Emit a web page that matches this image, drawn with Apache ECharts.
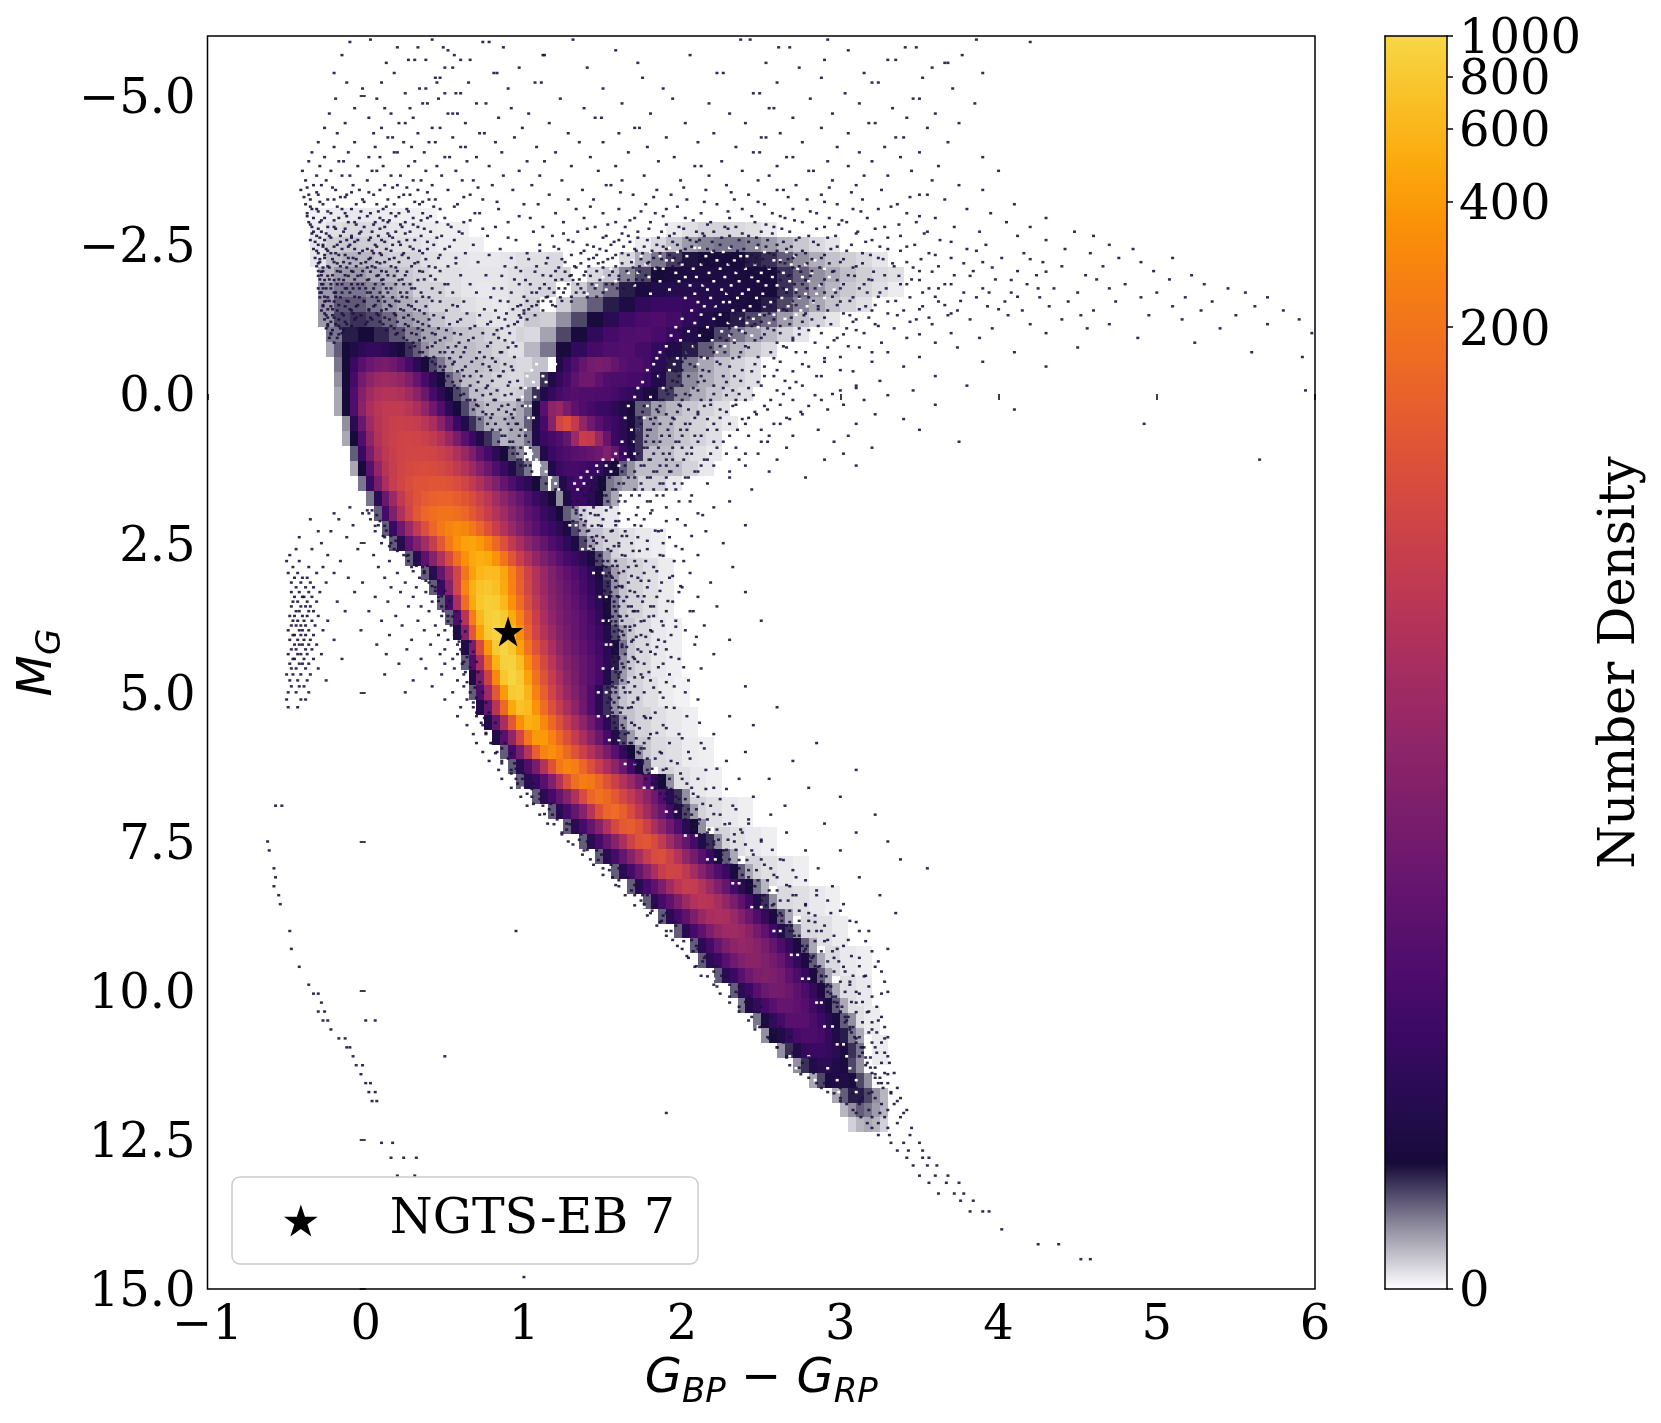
<!DOCTYPE html>
<html>
<head>
<meta charset="utf-8">
<title>NGTS-EB 7 colour-magnitude diagram</title>
<script src="https://cdn.jsdelivr.net/npm/echarts@6/dist/echarts.min.js"></script>
<style>html,body{margin:0;padding:0;background:#fff}#cmd{width:1661px;height:1423px}</style>
</head>
<body>
<div id="cmd"></div>
<script>
var xTicks = [-1, 0, 1, 2, 3, 4, 5, 6];
var yTicks = [-5, -2.5, 0, 2.5, 5, 7.5, 10, 12.5, 15];
var barTicks = [0, 200, 400, 600, 800, 1000];
var targetName = 'NGTS-EB 7';
var target = [0.9, 3.98];

// number density, rows are [M_G, first colour, values...]
// main sequence + turnoff, one value per 0.05 in colour, 0.25 in M_G
var bodyRows = [
[-0.75,-0.25,[.3,.6,1,1.5,2,2.5,2.5,2,1.5,1,.8,.6,.4]],
[-0.5,-0.2,[.5,1,3,6,9,11,12,10,7,4,2,1,.7,.5,.3]],
[-0.25,-0.2,[.4,1,4,11,18,24,26,24,20,14,8,4,2,1,.6,.4]],
[0,-0.2,[.3,1,5,15,26,34,38,38,34,26,17,9,4,2,1,.7,.5]],
[0.25,-0.2,[.3,1,5,17,32,42,48,50,48,42,32,20,10,5,2,1,.7,.4]],
[0.5,-0.15,[.4,2,9,25,40,50,58,60,58,52,42,30,17,8,3,1.5,.8,.5]],
[0.75,-0.15,[.3,1,5,18,36,50,60,65,68,66,60,50,36,22,12,6,3,1.5,.8,.5]],
[1,-0.1,[.6,3,12,30,46,58,66,70,72,72,68,60,48,34,22,13,7,4,2,1,.6,.4]],
[1.25,-0.1,[.3,1,6,20,40,56,68,76,82,84,82,76,64,50,36,24,15,9,5,3,1.5,.8,.5]],
[1.5,-0.05,[.5,3,12,32,54,72,86,96,100,104,104,96,84,68,50,34,22,14,8,5,3,2,1,.6]],
[1.75,0,[.5,2,9,24,48,76,100,120,134,140,140,126,106,84,62,44,28,18,12,8,5,3,2,1,.6]],
[2,0.05,[.6,4,14,34,68,110,150,180,200,200,180,150,110,80,56,38,26,16,11,7,5,3,2,1,.6,.4]],
[2.25,0.1,[.6,3,10,24,50,90,150,220,280,310,280,220,150,95,58,36,22,14,9,6,4,3,2,1.3,.7,.35]],
[2.5,0.15,[.6,2,7,14,28,55,110,220,350,440,460,400,280,160,90,50,30,18,12,8,5,3.5,2.2,1.3,.7,.35]],
[2.75,0.25,[.6,2,7,16,36,80,180,340,480,540,500,360,200,105,58,34,20,13,9,6,4,3,2,1.2,.7,.35]],
[3,0.35,[.6,2,8,24,70,210,430,600,670,640,470,260,125,64,36,22,14,10,7,5,3.5,2.2,1.3,.7,.35]],
[3.25,0.4,[.6,3,16,70,280,560,720,770,700,500,270,135,70,38,23,15,11,8,6,4,2.6,1.5,.8,.4]],
[3.5,0.45,[.6,4,30,170,500,760,860,830,620,350,175,85,46,27,17,12,9,7,5,3.2,2,1,.5]],
[3.75,0.5,[.6,5,40,240,620,860,920,800,510,265,120,58,32,19,13,10,8,6,4,2.4,1.1,.5]],
[4,0.55,[1.5,16,110,430,800,950,880,620,330,145,68,38,24,15,11,8,6,4.5,3,1.5,.7,.35]],
[4.25,0.6,[1.5,12,80,380,800,960,780,440,200,100,56,32,18,12,9,7,5,3.5,2,1.1,.5]],
[4.5,0.6,[.6,5,30,160,560,900,920,680,320,150,76,42,24,15,11,8,6,4,2,.9,.4]],
[4.75,0.65,[1.5,12,60,300,760,960,800,440,190,96,52,30,18,12,8,6,4,1.6,.7,.35]],
[5,0.65,[.6,5,25,110,400,800,860,580,270,130,68,38,22,14,9,5,2,.8,.4]],
[5.25,0.7,[1.5,8,40,160,480,720,640,360,170,90,52,30,18,10,5,2,.8,.4]],
[5.5,0.75,[1.5,8,30,110,340,540,500,300,160,90,52,30,18,10,5,2,.8,.4]],
[5.75,0.8,[1.5,6,20,70,220,400,400,270,150,90,52,30,17,9,4,1.6,.7,.35]],
[6,0.85,[.6,4,12,40,130,280,340,260,160,100,60,36,22,12,6,2.5,1,.4]],
[6.25,0.9,[.6,2,5,12,36,100,220,290,240,150,90,56,32,18,9,3.5,1.2,.5]],
[6.5,0.95,[.6,2,3,6,14,36,90,180,240,220,150,95,60,36,22,12,6,2.5,1,.4]],
[6.75,1.05,[.6,2,4,8,16,34,80,150,190,160,110,74,48,30,18,10,5,2,.8,.4]],
[7,1.15,[.6,2,4,8,16,40,90,150,170,130,80,46,26,14,8,4,1.6,.7,.35]],
[7.25,1.25,[.6,2,4,8,16,36,76,115,125,95,60,32,18,10,5,2,1,.4]],
[7.5,1.35,[.6,2,4,8,16,32,64,100,108,80,48,26,14,8,4,1.6,.8,.4]],
[7.75,1.45,[.6,2,4,8,16,30,56,84,88,64,38,20,11,6,3,1.2,.6,.3]],
[8,1.55,[.6,2,4,8,16,32,54,68,66,46,28,16,9,5,3,1.2,.6,.3]],
[8.25,1.65,[.6,2,4,7,13,26,42,54,52,38,24,14,8,4,2,1,.5,.25]],
[8.5,1.75,[.6,2,4,7,13,24,36,42,40,30,20,12,7,3.5,1.6,.8,.4]],
[8.75,1.85,[.6,2,4,7,13,22,30,33,30,23,15,9,5,2.5,1.2,.6,.3]],
[9,1.95,[.6,2,4,7,13,20,25,26,23,17,11,7,3.5,1.6,.8,.4]],
[9.25,2.05,[.6,2,4,8,13,18,21,20,16,12,8,4.5,2.5,1.2,.6,.3]],
[9.5,2.1,[.6,2,3,6,10,14,17,17,14,11,8,4.5,2.5,1.2,.6,.3]],
[9.75,2.2,[.6,2,3,6,10,13,14,13,11,7,4.5,2.5,1.2,.6,.3]],
[10,2.3,[.6,2,3,6,9,11,11,9,7,4.5,2.5,1.2,.6,.3]],
[10.25,2.35,[.5,1.5,2.5,4,6,8,8,7,5.5,3.5,2,1.2,.6,.3]],
[10.5,2.45,[.5,1.2,2.5,4,6,6,6,4.5,3,1.8,1.2,.6,.4]],
[10.75,2.5,[.4,1,1.5,2.5,4,4.5,4.5,4,2.5,1.5,.9,.5,.3]],
[11,2.6,[.4,.8,1.5,2.5,3,3,2.5,2,1.3,.8,.5]],
[11.25,2.7,[.4,.8,1.5,2,2,1.5,1.2,.7,.4]],
[11.5,2.8,[.3,.7,1.2,1.5,1.5,1.2,.7,.4]],
[11.75,2.95,[.3,.6,.9,.9,.7,.4,.25]],
[12,3,[.25,.4,.6,.5,.35,.25]],
[12.25,3.05,[.15,.25,.3,.25,.15]],
// red clump
[-0.5,1.2,[1.5,3,5,8,11,12,11,8,6,5,5,4]],
[-0.25,1.1,[.8,1.5,2.5,4,7,10,10,7,5,4.5,4.5,4,4,3]],
[0,1,[.4,.8,1.5,2.5,4,5,5.5,5,5,4.5,4.5,4,3,2.5,2]],
[0.25,1,[.5,1,6,18,22,12,7,5,4,3,3,2,1.5,1]],
[0.5,1,[.6,1.5,4,16,70,90,50,20,10,6,4,3,2,1.2,.8]],
[0.75,1,[.5,1.5,3,4,5,8,24,56,50,22,8,3,2,1.2,.8]],
[1,1.05,[.5,1.5,3,4,5,6,7,8,10,14,8,3,1.5,.8]],
[1.25,1.1,[.4,1.5,3,4,4,3.5,3,2.5,1.5,1,.6,.4]],
[1.5,1.17,[.5,1.5,3,4,3,2,1,.5,.4,.3,.3]],
[1.75,1.2,[.4,1.5,3,3,2,1,.5,.3]]
];

// giant branch and the thin haze round it, one value per 0.1 in colour, 0.25 in M_G
var branchRows = [
[-3,-0.35,[.04,.06,.07,.07,.06,.05,.05,.04]],
[-2.75,-0.35,[.06,.1,.12,.12,.1,.08,.07,.06,.05,.05]],
[-2.5,-0.35,[.08,.16,.18,.16,.14,.1,.1,.08,.06,.06,.05]],
[-2.25,-0.35,[.08,.22,.26,.24,.18,.14,.14,.1,.08,.08,.07,.07,.08,.1,.1,.12]],
[-2,-0.3,[.24,.36,.36,.28,.24,.18,.14,.1,.1,.08,.08,.08,.1,.12,.12,.14]],
[-1.75,-0.3,[.36,.5,.5,.42,.3,.24,.14,.14,.1,.08,.07,.08,.1,.12,.14]],
[-1.5,-0.3,[.36,.62,.62,.5,.36,.28,.2,.14,.14,.1,.08,.07,.1,.14]],
[-1.25,-0.3,[.36,.7,.8,.7,.55,.38,.3,.2,.14,.14,.1,.08,.1,.18]],
[-1,-0.25,[.5,.9,1,.85,.65,.45,.32,.26,.2,.18,.14,.1,.14]],
[-0.75,0.4,[.28,.22,.22,.18,.14,.1,.2]],
[-0.5,0.45,[.24,.22,.22,.18,.14,.12,.2]],
[-0.25,0.5,[.24,.22,.18,.14,.12,.2]],
[0,0.55,[.24,.22,.18,.14,.16,.3]],
[0.25,0.65,[.28,.22,.22,.3]],
[0.5,0.7,[.28,.25,.3]],
[0.75,0.8,[.25,.3]],
[-2.75,1.9,[.06,.1,.14,.14,.12,.1,.06]],
[-2.5,1.7,[.06,.12,.22,.35,.45,.5,.5,.45,.35,.25,.18,.12,.08]],
[-2.25,1.6,[.12,.28,.5,.75,.95,1,1.1,1,.9,.8,.6,.4,.28,.2,.16,.12,.08]],
[-2,1.4,[.12,.2,.45,.7,1,1.2,1.3,1.3,1.3,1.2,1.1,1,.8,.6,.4,.3,.22,.16,.12,.1]],
[-1.75,1.3,[.16,.35,.55,.9,1.2,1.6,1.8,1.8,1.7,1.5,1.4,1.2,1,.8,.55,.38,.25,.18,.14,.1,.06]],
[-1.5,1.2,[.16,.35,.6,.9,1.4,2.4,3,3,2.6,2,1.6,1.3,1.1,.9,.7,.45,.3,.2,.14,.1]],
[-1.25,1.1,[.16,.4,.7,1.1,2,3.4,4.4,4.8,3.8,2.4,1.6,1.1,.9,.7,.55,.35,.22,.14,.08]],
[-1,1,[.12,.32,.7,1.1,2.4,4,5,5.2,4.2,2.8,1.6,1,.7,.5,.36,.24,.14,.08]],
[-0.75,1,[.24,.5,1.1,2.4,4,5,5.2,3.8,2.6,1.5,.9,.6,.4,.25,.18,.12]],
[-0.5,1.8,[2,.9,.5,.3,.2,.14,.1]],
[-0.25,1.8,[1.6,.75,.42,.28,.2,.14,.1]],
[0,1.75,[1.2,.75,.42,.28,.2,.14,.1]],
[0.25,1.7,[.6,.35,.25,.18,.14,.1]],
[0.5,1.75,[.35,.25,.18,.14,.1,.07]],
[0.75,1.75,[.35,.25,.18,.14,.1]],
[1,1.75,[.22,.22,.14,.1,.07]],
[1.25,1.7,[.22,.22,.22,.14,.07]],
[1.5,1.7,[.14,.14,.07]]
];

// haze on the red side of the main sequence, 0.1 in colour, 0.5 in M_G
var hazeRows = [
[2,1.3,[.14,.1,.07]],
[2.5,1.4,[.2,.14,.1,.07,.05]],
[3,1.55,[.2,.14,.1,.06]],
[3.5,1.55,[.2,.14,.1,.06]],
[4,1.6,[.18,.12,.07,.05]],
[4.5,1.6,[.18,.12,.07,.05]],
[5,1.55,[.2,.14,.1,.06,.04]],
[5.5,1.6,[.2,.14,.1,.07,.05]],
[6,1.7,[.18,.12,.1,.06,.05]],
[6.5,1.85,[.14,.1,.07,.05]],
[7,2.05,[.14,.1,.07,.05]],
[7.5,2.2,[.14,.1,.07,.05]],
[8,2.4,[.14,.1,.07,.05]],
[8.5,2.6,[.12,.1,.07,.05]],
[9,2.75,[.12,.1,.06]],
[9.5,2.9,[.12,.07,.05]],
[10,3,[.1,.07]],
[10.5,3.05,[.1,.06]],
[11,3.2,[.06]]
];

// empty bins inside the speckled parts, rows are [M_G, [colours]]
var holeRows = [
[-2.45,[1.92,2.08,2.11,2.3,2.47]],
[-2.38,[1.8,1.97,2.19,2.26,2.52,2.66]],
[-2.31,[1.74,1.86,2.03,2.15,2.37,2.41,2.71]],
[-2.24,[1.69,1.9,1.94,2.22,2.33,2.58,2.62,2.84]],
[-2.17,[1.6,1.77,2,2.12,2.29,2.46,2.69,2.78]],
[-2.1,[1.55,1.83,1.88,2.07,2.24,2.4,2.55,2.73,2.9]],
[-2.03,[1.66,1.72,1.96,2.17,2.34,2.5,2.64,2.82]],
[-1.96,[1.5,1.79,2.02,2.09,2.27,2.44,2.57,2.76,2.93]],
[-1.89,[1.58,1.86,1.98,2.2,2.36,2.48,2.68,2.8]],
[-1.82,[1.46,1.7,2.05,2.13,2.31,2.53,2.6,2.87]],
[-1.75,[1.52,1.92,2.16,2.25,2.42,2.66,2.72,2.96]],
[-1.68,[1.4,1.8,2.08,2.28,2.38,2.51,2.78,2.85]],
[-1.61,[2.02,2.18,2.35,2.47,2.63,2.74,2.9]],
[-1.54,[2.1,2.26,2.3,2.56,2.7,2.83]],
[-1.47,[2.14,2.21,2.43,2.52,2.67,2.79]],
[-1.4,[2.06,2.32,2.39,2.61,2.75]],
[-1.33,[2.12,2.24,2.49,2.58,2.72]],
[-1.26,[2,2.2,2.37,2.45,2.65]],
[-1.19,[2.08,2.29,2.41,2.55]],
[-1.12,[1.96,2.16,2.34,2.48]],
[-1.05,[2.04,2.25,2.38]],
[-.98,[1.93,2.11,2.3,2.44]],
[-.9,[1.99,2.19,2.33]],
[-.8,[1.9,2.07,2.27]],
[-.7,[1.86,2.03,2.22]],
[-.6,[1.84,1.97,2.14]],
[-.5,[1.08,1.2,1.82,1.95,2.1]],
[-.4,[1.05,1.16,1.78,1.92]],
[-.3,[1.02,1.12,1.85]],
[-.2,[1.06,1.14,1.75]],
[-.1,[1.01,1.09,1.72,1.88]],
[.05,[.99,1.07,1.7,1.8]],
[.2,[1.01,1.04,1.66,1.78]],
[.4,[1.03,1.06,1.64,1.76]],
[.6,[1.01,1.68,1.72]],
[.8,[1.03,1.62,1.69]],
[1,[1.05,1.58,1.64,1.7]],
[1.1,[1.08,1.5,1.56,1.66]],
[1.2,[1.1,1.46,1.52,1.6]],
[1.3,[1.14,1.4,1.47,1.55]],
[1.4,[1.17,1.36,1.43]],
[1.5,[1.2,1.32,1.38]],
[1.6,[1.22,1.34]],
[2.2,[1.29,1.33]],
[2.6,[1.37,1.41]],
[3,[1.44,1.5]],
[3.4,[1.48,1.52]],
[3.8,[1.5,1.54]],
[4.2,[1.52,1.55]],
[4.6,[1.5,1.56]],
[5,[1.47,1.52]],
[5.4,[1.47,1.53]],
[5.8,[1.54,1.6]],
[6.2,[.89,1.64,1.7]],
[6.6,[.99,1.76,1.81]],
[7,[1.11,1.9,1.96]],
[7.4,[1.28,2.02,2.09]],
[7.8,[1.42,2.16,2.21]],
[8.2,[1.61,2.32,2.36]],
[8.6,[1.76,2.44,2.5]],
[9,[1.92,2.58,2.62]],
[9.4,[2.06,2.69,2.73]],
[9.8,[2.2,2.76,2.8]],
[10.2,[2.34,2.85,2.88]],
[10.6,[2.48,2.9,2.95]],
[10.9,[2.55,2.98,3.02]],
[11.1,[2.68,2.8,3.04]],
[11.3,[2.72,2.92,3.06]],
[11.5,[2.84,2.98,3.1]],
[11.7,[2.99,3.1]]
];

// single stars, rows are [M_G, [colours]]
var starRows = [
[-5.94,[.03,.42,1.31,2.37,2.43,2.92,3.86]],
[-5.9,[-.1,.74,.78,4.2]],
[-5.81,[.2,.33,.49,.87,2.61,2.68,3.41,3.48]],
[-5.76,[.52,1.58,3.05]],
[-5.68,[-.15,.56,1.12,1.13,2.05,3.77]],
[-5.6,[.27,.31,.38,.6,.66,2.9,3.3,3.35]],
[-5.55,[.13,1.72,2.53,3.66,3.68]],
[-5.47,[.5,.55,.97,1.4,2.74,3.58]],
[-5.38,[-.2,.18,.81,.83,2.22,2.26,3.15,3.9]],
[-5.3,[.44,.47,1.75,2.88,3.52]],
[-5.22,[-.12,.1,.45,.65,1.07,1.11,2.6,3.2,3.24]],
[-5.12,[-.02,.34,.38,.9,1.5,1.88,3.71]],
[-5.04,[.25,.5,.57,.6,2.45,2.49,3.03]],
[-4.95,[-.19,.07,.46,1.23,1.94,2.81,3.46,3.5]],
[-4.87,[.36,.39,.7,.76,1.62,2.17,3.12,3.85]],
[-4.79,[-.07,.12,.28,.92,1.38,2.55,2.58,3.33]],
[-4.7,[-.23,.16,.52,.55,.58,1.03,1.8,2.3,2.95,3.6]],
[-4.63,[.02,.3,.84,1.45,1.49,2.7,3.42]],
[-4.54,[-.13,.21,.25,.63,1.16,2.02,2.4,3.18,3.22,3.75]],
[-4.46,[-.26,.1,.42,.47,.99,1.7,1.73,2.88,3.55]],
[-4.37,[-.18,.05,.33,.72,.75,1.28,1.6,2.2,2.62,3.05]],
[-4.3,[.14,.17,.55,.94,1.9,2.5,2.53,3.35,3.4]],
[-4.22,[-.3,-.07,.24,.4,.44,.82,1.35,1.5,2.1,2.76,3.68]],
[-4.14,[-.2,.06,.29,.6,.63,1.08,1.78,2.34,2.98,3.28]],
[-4.05,[-.34,-.11,.18,.2,.37,.86,1.2,1.66,2.45,2.49,3.12,3.5]],
[-3.97,[-.26,.02,.09,.5,.53,.7,1.42,1.95,2.66,2.7,3.38,3.9]],
[-3.9,[-.36,-.17,-.14,.31,.64,1.02,1.13,1.85,2.25,2.92,3.2]],
[-3.82,[-.29,-.05,.11,.27,.45,.78,1.3,1.58,2.08,2.12,2.6,3.05,3.62]],
[-3.74,[-.4,-.22,.04,.07,.38,.57,.97,1.47,2.38,2.8,2.83,3.45,4]],
[-3.66,[-.31,-.15,-.1,.16,.22,.48,.87,1.1,1.76,2.17,2.55,3.15,3.3]],
[-3.58,[-.38,-.25,.01,.3,.35,.61,.68,1.24,1.62,1.99,2.48,2.95,3.58]],
[-3.5,[-.33,-.28,-.08,.12,.2,.42,.8,1.05,1.52,1.55,2.28,2.72,3.1,3.75]],
[-3.42,[-.41,-.19,-.04,.09,.33,.52,.93,1.37,1.84,2.15,2.6,2.64,3.26,3.9]],
[-3.34,[-.36,-.3,-.12,.05,.24,.28,.66,1.16,1.69,1.93,2.42,2.88,3.5,3.55]],
[-3.26,[-.35,-.24,-.2,-.02,.14,.4,.44,.74,1.28,1.44,2.03,2.33,2.79,3.14,3.66]],
[-3.18,[-.38,-.27,-.06,.07,.18,.34,.58,1,1.09,1.77,2.22,2.52,2.98,3.36,4.1]],
[-3.1,[-.34,-.31,-.15,-.09,.11,.26,.47,.84,1.33,1.6,1.9,2.38,2.7,3.08,3.24,3.8]],
[-3.03,[-.37,-.22,-.13,.03,.16,.21,.36,.69,.72,1.2,1.5,1.83,2.12,2.57,2.85,3.42,3.95]],
[-2.95,[-.33,-.26,-.17,-.04,.09,.3,.39,.5,1.04,1.38,1.7,2.02,2.3,2.65,2.93,3.17,3.6,4.3]],
[-2.88,[-.36,-.29,-.11,-.07,.06,.14,.25,.45,.62,.9,1.25,1.58,1.8,2.18,2.46,2.76,3.04,3.48,4.05]],
[-2.8,[-.34,-.24,-.2,-.01,.12,.23,.33,.54,.82,1.12,1.45,1.64,1.98,2.27,2.34,2.58,2.9,3.28,3.72,4.2]],
[-2.72,[-.33,-.28,-.14,-.03,.04,.19,.28,.41,.59,1.06,1.34,1.72,1.87,2.09,2.2,2.5,2.68,3.11,3.55,3.88,4.48]],
[-2.65,[-.31,-.23,-.16,-.09,.08,.15,.35,.48,.77,1.18,1.52,1.66,1.92,2.14,2.3,2.42,2.8,2.97,3.38,4.12,4.6]],
[-2.58,[-.35,-.26,-.12,-.05,.02,.1,.26,.31,.56,.95,1.28,1.6,1.78,2.05,2.11,2.36,2.54,2.72,3.2,3.63,4.3]],
[-2.5,[-.3,-.27,-.18,-.1,.06,.17,.22,.43,.68,1.1,1.4,1.55,1.84,1.97,2.24,2.48,2.6,2.86,3.07,3.47,3.92,4.7]],
[-2.43,[-.33,-.25,-.15,-.07,.01,.13,.3,.39,.5,.85,1.22,1.48,1.7,1.9,2.02,2.16,2.39,2.66,2.94,3.3,3.8,4.42,4.85]],
[-2.36,[-.3,-.22,-.19,-.04,.05,.09,.24,.36,.63,1.02,1.36,1.62,1.75,1.86,2.07,2.28,2.55,2.78,3.14,3.56,4.16,4.58]],
[-2.28,[-.32,-.26,-.11,-.08,.03,.18,.27,.46,.57,.92,1.15,1.44,1.56,1.82,1.95,2.12,2.33,2.47,2.7,2.88,3.24,3.7,4.02,4.76,5.1]],
[-2.21,[-.29,-.2,-.14,0,.07,.12,.21,.33,.71,1.26,1.5,1.68,1.79,2,2.19,2.41,2.62,3,3.42,3.9,4.28,4.9]],
[-2.14,[-.31,-.24,-.16,-.06,.04,.16,.29,.4,.52,.88,1.08,1.32,1.41,1.58,1.73,1.94,2.26,2.52,2.74,3.1,3.34,3.62,4.4,4.66]],
[-2.06,[-.3,-.27,-.18,-.09,-.02,.1,.2,.34,.47,.98,1.2,1.46,1.65,1.83,2.04,2.35,2.59,2.82,2.96,3.5,3.84,4.12,4.98]],
[-1.99,[-.28,-.21,-.13,-.03,.08,.14,.25,.6,.76,1.12,1.3,1.38,1.54,1.77,1.89,2.15,2.44,2.68,3.05,3.28,3.72,4.24,4.55,5.22]],
[-1.92,[-.29,-.23,-.17,-.07,.02,.11,.23,.37,.44,.94,1.24,1.35,1.6,1.71,2.08,2.3,2.56,2.9,3.18,3.45,3.98,4.62,5.08]],
[-1.84,[-.27,-.22,-.15,-.05,.06,.19,.28,.5,.66,1.04,1.28,1.43,1.52,1.69,1.97,2.21,2.5,2.76,3.02,3.38,3.66,4.18,4.8,5.3]],
[-1.77,[-.3,-.25,-.12,-.08,0,.13,.31,.42,.86,1.16,1.26,1.36,1.63,1.85,2.1,2.38,2.64,2.84,3.12,3.56,3.9,4.35,4.7,5.45]],
[-1.7,[-.28,-.19,-.1,.03,.09,.22,.35,.55,.7,1.08,1.19,1.33,1.5,2.05,2.29,2.72,2.97,3.25,3.78,4.08,4.5,5,5.56]],
[-1.62,[-.29,-.24,-.16,-.04,.07,.17,.26,.4,.79,1.14,1.23,1.4,2.4,2.61,2.8,3.08,3.44,3.86,4.26,4.9,5.18,5.7]],
[-1.55,[-.26,-.2,-.11,-.01,.12,.21,.32,.47,.62,.9,1.09,1.17,1.3,2.48,2.7,3,3.3,3.62,4.04,4.44,4.74,5.35]],
[-1.47,[-.27,-.22,-.13,-.06,.05,.16,.29,.38,.58,.96,1.05,1.2,2.34,2.56,2.86,3.16,3.52,3.93,4.32,5.1,5.62]],
[-1.4,[-.28,-.18,-.09,.02,.1,.24,.34,.51,.82,1,1.12,2.44,2.66,2.92,3.2,3.4,3.74,4.15,4.6,5.28,5.8]],
[-1.32,[-.25,-.21,-.14,-.03,.08,.19,.27,.43,.72,.97,1.07,2.28,2.52,2.77,3.06,3.36,3.68,4.06,4.52,4.95,5.5]],
[-1.25,[-.26,-.17,-.07,.04,.15,.3,.4,.6,.88,1.02,2.38,2.58,2.82,3.1,3.48,3.82,4.4,5.16,5.9]],
[-1.17,[-.24,-.19,-.12,0,.11,.25,.36,.53,.77,.94,2.2,2.46,2.68,2.94,3.22,3.58,4.2,4.7,5.7]],
[-1.1,[-.25,-.16,-.05,.18,.33,.46,.66,.86,2.3,2.54,2.74,3.04,3.34,3.96,4.56,5.4]],
[-1.02,[-.22,-.15,.2,.29,.42,.56,.74,.91,2.13,2.4,2.62,2.88,3.15,3.7,4.3,5.98]],
[-.94,[-.23,-.18,.24,.37,.5,.68,.84,2.24,2.5,2.7,2.98,3.42,3.88,4.88]],
[-.86,[-.2,.3,.44,.59,.79,.93,2.08,2.33,2.6,2.84,3.26,3.6,5.24]],
[-.78,[.28,.39,.52,.63,.9,2.18,2.42,2.66,2.92,3.12,3.74,4.5]],
[-.7,[.34,.47,.55,.72,.86,2.03,2.27,2.56,2.78,3.3,4.1,5.6]],
[-.62,[.38,.43,.6,.75,.94,2.12,2.36,2.48,3,3.5,5.92]],
[-.54,[.42,.56,.67,.82,2,2.22,2.62,2.9,3.2,3.9]],
[-.46,[.47,.5,.63,.78,.92,2.08,2.3,2.52,2.8,3.4,4.3]],
[-.38,[.44,.58,.7,.87,1.96,2.17,2.44,2.7,3.08]],
[-.3,[.52,.62,.73,.85,2.04,2.26,2.58,2.88,3.6]],
[-.22,[.5,.6,.8,.96,1.94,2.14,2.37,2.65,3.25]],
[-.14,[.56,.66,.77,.9,2,2.2,2.5,2.76,3.1,3.8]],
[-.06,[.54,.7,.83,1.9,2.1,2.32,2.6,3,3.46,5.94]],
[.02,[.6,.74,.88,1.96,2.05,2.28,2.45,2.84,3.3]],
[.1,[.64,.69,.81,.97,1.86,2.12,2.4,2.7,3.15]],
[.18,[.7,.77,.9,1.98,2.18,2.34,2.62,3.02,3.6]],
[.26,[.68,.84,.94,1.84,2.04,2.24,2.54,2.92,4.1]],
[.34,[.76,.8,.92,1.9,2.1,2.47,2.76,3.22]],
[.42,[.72,.88,1.8,1.95,2.16,2.38,2.68,3.4]],
[.5,[.82,.9,.96,1.86,2.02,2.3,2.58,3.1,4.92]],
[.6,[.8,.92,1.78,1.99,2.22,2.5,2.86,3.5]],
[.7,[.86,.97,1.92,2.08,2.42,2.7,3.05]],
[.8,[.84,.93,1.82,1.96,2.2,2.54,2.96,3.75]],
[.9,[.9,.98,1.78,2,2.34,2.66,3.2]],
[1,[.93,1.01,1.88,2.06,2.28,2.48,3.02]],
[1.1,[.96,1.02,1.8,1.94,2.14,2.6,2.9,5.65]],
[1.2,[.98,1.04,1.74,1.9,2.2,2.4,3.1]],
[1.3,[1.62,1.84,1.92,2.1,2.55]],
[1.4,[1.5,1.7,1.8,2.02,2.3,2.78]],
[1.5,[1.46,1.6,1.88,1.95,2.16]],
[1.6,[1.42,1.56,1.75,1.9,2.44]],
[1.7,[1.38,1.52,1.68,1.84,2.06]],
[1.8,[1.34,1.48,1.6,1.78,1.98,2.3]],
[1.9,[-.1,1.31,1.44,1.55,1.72,1.9,2.2]],
[2,[-.2,-.02,.02,1.33,1.42,1.6,1.8,2.1]],
[2.1,[-.35,-.17,.03,1.36,1.5,1.66,1.76,1.97]],
[2.2,[-.08,.08,1.38,1.47,1.58,1.7,2.02,2.4]],
[2.3,[-.3,-.22,.06,1.4,1.55,1.64,1.85,2.15]],
[2.4,[-.42,-.12,.12,1.43,1.5,1.72,1.92]],
[2.5,[-.28,.1,.16,1.46,1.6,1.68,1.88,2.26]],
[2.6,[-.44,-.34,-.05,.18,1.44,1.53,1.78,2]],
[2.7,[-.48,-.24,.05,.24,.27,1.48,1.62,1.86,2.1]],
[2.8,[-.5,-.42,-.16,.15,.31,1.5,1.58,1.7,1.95]],
[2.9,[-.46,-.36,-.27,.08,.29,.36,1.52,1.66,1.82,2.32]],
[3,[-.49,-.43,-.31,-.2,.2,.37,1.54,1.6,1.76,2.05]],
[3.08,[-.45,-.4,-.37,-.11,.12,.34,.42,1.56,1.72,1.92]],
[3.16,[-.47,-.41,-.35,-.25,-.02,.25,.4,1.53,1.66,1.87,2.18]],
[3.24,[-.44,-.38,-.33,.16,.32,.44,1.58,1.62,1.78,2]],
[3.32,[-.47,-.42,-.36,-.29,-.07,.22,.38,1.55,1.7,1.98,2.4]],
[3.4,[-.45,-.4,-.39,-.34,.06,.3,.46,1.6,1.65,1.84,2.1]],
[3.48,[-.46,-.43,-.37,-.31,-.18,.14,.42,1.57,1.75,1.94]],
[3.56,[-.47,-.41,-.38,-.35,.27,.35,.48,1.6,1.68,1.8,2.22]],
[3.64,[-.44,-.42,-.36,-.33,-.13,.02,.4,1.58,1.72,1.9,2.05]],
[3.72,[-.48,-.45,-.4,-.37,-.3,.19,.48,.52,1.6,1.65,1.82]],
[3.8,[-.46,-.43,-.39,-.34,-.24,.1,.33,1.62,1.76,1.96,2.5]],
[3.88,[-.47,-.44,-.41,-.38,-.32,.23,.44,.54,1.58,1.7,1.88,2.14]],
[3.96,[-.49,-.42,-.4,-.36,-.27,-.03,.37,.5,1.6,1.67,1.8,2.02]],
[4.04,[-.46,-.45,-.41,-.38,-.33,.15,.46,.56,1.63,1.74,1.93]],
[4.12,[-.48,-.43,-.39,-.35,-.2,.29,.52,1.6,1.69,1.85,2.3]],
[4.2,[-.45,-.42,-.4,-.36,-.31,.07,.41,.58,1.62,1.78,2.08]],
[4.28,[-.47,-.44,-.38,-.34,.26,.5,.6,1.58,1.72,1.9]],
[4.36,[-.49,-.43,-.41,-.37,-.28,.13,.47,.58,1.64,1.83,2.2]],
[4.44,[-.46,-.45,-.39,-.33,-.15,.35,.55,1.6,1.7,1.98]],
[4.52,[-.48,-.42,-.4,-.36,.21,.5,.61,1.62,1.76,1.88]],
[4.6,[-.47,-.44,-.38,-.3,.38,.56,1.58,1.67,2.12]],
[4.7,[-.5,-.46,-.41,-.35,.12,.48,.62,1.6,1.74,1.92]],
[4.8,[-.48,-.43,-.37,-.25,.3,.58,1.62,1.8,2.04]],
[4.9,[-.47,-.42,-.39,.42,.62,1.56,1.7,1.95,2.4]],
[5,[-.49,-.44,-.36,.25,.55,1.58,1.64,1.86]],
[5.12,[-.5,-.41,-.38,.5,.64,1.55,1.72,2.1]],
[5.25,[-.49,-.43,.6,.68,1.6,1.68,1.9,2.6]],
[5.4,[.58,.7,1.57,1.76,2.03,2.3]],
[5.55,[.64,.74,1.62,1.7,1.88,2.45]],
[5.7,[.68,.76,1.64,1.8,1.98,2.2]],
[5.85,[.7,.79,1.68,1.76,2.12,2.85]],
[6,[.74,.83,1.72,1.86,2.04,2.4]],
[6.15,[.78,.86,1.75,1.93,2.28,2.7]],
[6.3,[.84,.92,1.78,1.88,2.15,3.1]],
[6.45,[.86,.95,1.84,2,2.36,2.55]],
[6.6,[.92,1.02,1.9,2.06,2.2,2.8]],
[6.75,[.98,1.05,1.96,2.1,2.45,3]],
[6.9,[-.57,-.53,1.02,1.12,2,2.18,2.32,2.65]],
[7.05,[1.1,1.18,2.06,2.24,2.56,3.22]],
[7.2,[1.15,1.27,2.1,2.3,2.42,2.9]],
[7.35,[1.24,1.33,2.16,2.38,2.66,3.1]],
[7.5,[-.62,1.28,1.4,2.2,2.33,2.5,3.3]],
[7.65,[-.61,1.38,1.46,2.26,2.44,2.78,3.0]],
[7.8,[1.42,1.52,2.3,2.5,2.62,3.38]],
[7.95,[-.58,1.5,1.6,2.36,2.56,2.86,3.55]],
[8.1,[-.57,1.56,1.66,2.42,2.6,2.72,3.12]],
[8.25,[-.58,1.6,1.72,2.46,2.68,2.95]],
[8.4,[-.55,1.7,1.78,2.52,2.7,2.85,3.25]],
[8.55,[-.54,1.76,1.84,2.58,2.78,3.02]],
[8.7,[1.8,1.9,2.62,2.8,2.94,3.35]],
[8.85,[1.86,1.96,2.68,2.84,3.1]],
[9,[-.48,.95,1.9,2.02,2.7,2.88,3.18]],
[9.15,[1.94,2.06,2.74,2.92,3.05]],
[9.3,[-.47,2,2.1,2.78,2.98,3.3]],
[9.45,[2.04,2.14,2.82,2.96,3.12]],
[9.6,[-.42,2.08,2.2,2.86,3.02,3.22]],
[9.75,[2.12,2.25,2.88,3.08,3.16]],
[9.9,[-.36,2.2,2.3,2.92,3.06]],
[10.05,[-.33,-.3,2.24,2.36,2.94,3.12,3.26]],
[10.2,[-.28,2.3,2.42,2.98,3.1]],
[10.35,[-.3,-.26,2.36,2.46,3,3.18]],
[10.5,[-.27,-.24,0,.06,2.42,2.52,3.04,3.24]],
[10.65,[-.22,2.46,2.58,3.06,3.2]],
[10.8,[-.17,-.13,2.55,2.62,3.1,3.28]],
[10.95,[-.12,-.1,2.6,3.14,3.22]],
[11.1,[-.08,.5,2.66,3.12,3.3]],
[11.25,[-.06,-.02,2.68,3.16]],
[11.4,[-.03,2.75,3.22,3.3]],
[11.55,[.0,.03,2.85,3.05,3.26]],
[11.7,[.02,.06,2.92,3.2,3.32]],
[11.85,[.04,.07,3,3.12,3.36]],
[12.05,[1.9,3.1,3.25,3.4]],
[12.3,[3.2,3.3,3.45]],
[12.55,[.1,.17,3.32,3.4,3.5]],
[12.8,[.16,.24,.32,3.42,3.52,3.56]],
[13.1,[.2,.31,3.5,3.6,3.68]],
[13.4,[3.62,3.72,3.78]],
[13.7,[3.82,3.9,3.94]],
[14,[4.02]],
[14.25,[4.25,4.38]],
[14.5,[4.52,4.58]],
[14.8,[1]]
];

// more of them where the picture is thick with dots: blue wedge, upper arc, red-side halo
var crowdRows = [
[-3.46,[-.37,-.21,.17,.26,.71,2.01,2.93]],
[-3.38,[-.31,-.09,.02,.39,1.61,2.31,3.07]],
[-3.3,[-.39,-.16,-.13,.21,.62,1.82,2.67,3.44]],
[-3.22,[-.29,-.01,.31,.36,.83,2.14,2.48,2.9]],
[-3.14,[-.35,-.18,.13,.43,.56,1.42,1.97,3.32]],
[-3.06,[-.3,-.24,-.03,.08,.27,1.74,2.29,2.81,3.13]],
[-2.98,[-.37,-.12,.01,.19,.41,.97,1.88,2.44,2.62,3.5]],
[-2.91,[-.28,-.2,.11,.15,.35,.66,1.67,2.07,2.71,3.01]],
[-2.84,[-.35,-.06,.05,.22,.3,.52,1.53,1.9,2.16,2.53,2.99,3.37]],
[-2.77,[-.3,-.19,-.13,.09,.37,.74,1.4,1.79,2.01,2.29,2.63,2.85,3.22]],
[-2.69,[-.34,-.25,-.04,.14,.25,.61,1.25,1.62,1.95,2.13,2.38,2.57,3.1,3.53]],
[-2.62,[-.29,-.22,-.09,.03,.17,.45,.9,1.5,1.72,1.85,2.03,2.25,2.47,2.74,2.92,3.3]],
[-2.55,[-.32,-.16,-.07,.12,.21,.39,1.31,1.57,1.67,1.94,2.09,2.19,2.42,2.64,2.83,3.16,3.7]],
[-2.47,[-.27,-.2,-.11,.07,.28,.53,1.19,1.44,1.63,1.76,1.88,2.06,2.31,2.53,2.69,2.98,3.25,3.42]],
[-2.4,[-.31,-.24,-.02,.04,.16,.34,1.1,1.38,1.52,1.71,1.81,1.99,2.2,2.35,2.6,2.76,3.04,3.38,3.86]],
[-2.33,[-.26,-.17,-.13,.1,.23,.47,.78,1.3,1.46,1.58,1.66,1.92,2.1,2.24,2.44,2.58,2.72,2.9,3.19,3.6]],
[-2.26,[-.29,-.21,-.06,.02,.15,.38,1.03,1.24,1.41,1.53,1.74,1.87,2.04,2.17,2.37,2.51,2.67,2.82,3.02,3.27,3.51,4.2]],
[-2.19,[-.3,-.18,-.1,-.03,.09,.31,.57,1.14,1.36,1.47,1.62,1.78,1.98,2.13,2.3,2.46,2.65,2.79,2.93,3.14,3.33,3.78]],
[-2.12,[-.27,-.23,-.12,.01,.06,.19,.44,.95,1.22,1.33,1.5,1.69,1.84,2.01,2.22,2.39,2.55,2.7,2.87,3.08,3.46,3.96]],
[-2.05,[-.28,-.16,-.08,.03,.13,.26,.36,1.07,1.26,1.39,1.56,1.73,1.93,2.11,2.29,2.47,2.61,2.75,2.95,3.21,3.58,4.3]],
[-1.98,[-.3,-.24,-.11,-.05,.07,.18,.41,.86,1.17,1.29,1.42,1.6,1.82,1.99,2.18,2.36,2.52,2.67,2.81,3.09,3.37,3.82]],
[-1.91,[-.26,-.2,-.14,.01,.1,.21,.33,1.01,1.2,1.31,1.48,1.66,1.75,1.96,2.06,2.26,2.43,2.62,2.78,2.98,3.2,3.5,4.08]],
[-1.84,[-.28,-.18,-.09,-.02,.11,.24,.52,.97,1.13,1.34,1.56,1.77,1.91,2.14,2.33,2.56,2.71,2.88,3.15,3.42,3.7]],
[-1.77,[-.27,-.22,-.13,-.04,.05,.16,.29,.81,1.1,1.22,1.45,1.59,1.8,2.02,2.2,2.45,2.6,2.79,3,3.29,3.62,4.25]],
[-1.7,[-.29,-.2,-.15,.01,.14,.26,.47,.92,1.05,1.25,1.38,1.96,2.12,2.34,2.53,2.66,2.9,3.17,3.52,3.94]],
[-1.63,[-.26,-.19,-.07,.04,.11,.23,.36,1,1.15,1.3,1.46,2.16,2.28,2.49,2.74,2.95,3.24,3.6,4.12]],
[-1.56,[-.25,-.23,-.12,-.01,.08,.19,.42,.85,1.02,1.12,1.24,2.24,2.4,2.58,2.83,3.06,3.35,3.76]],
[-1.49,[-.27,-.17,-.05,.06,.15,.27,.55,.98,1.08,1.18,2.2,2.36,2.52,2.72,2.98,3.22,3.66]],
[-1.42,[-.24,-.21,-.1,.02,.13,.22,.31,.75,.93,1.03,2.12,2.3,2.46,2.64,2.86,3.12,3.5,4]],
[-1.35,[-.26,-.15,-.08,.07,.18,.37,.64,.89,1,2.18,2.33,2.55,2.78,3.02,3.3,3.7]],
[-1.28,[-.24,-.2,-.06,.03,.12,.24,.49,.84,.98,2.09,2.27,2.42,2.69,2.9,3.18,3.56]],
[-1.21,[-.22,-.13,.01,.09,.2,.33,.58,.79,.96,2.14,2.3,2.5,2.76,3.08,3.44]],
[-1.14,[-.24,-.17,-.09,.16,.27,.4,.69,.9,2.05,2.21,2.44,2.62,2.86,3.24]],
[-1.07,[-.21,-.14,.13,.24,.36,.51,.83,1.98,2.17,2.36,2.58,2.8,3.1]],
[-1,[-.22,-.17,.19,.32,.44,.6,.81,2,2.15,2.31,2.52,2.74,3.02,3.5]],
[-.9,[.26,.34,.47,.65,.88,1.94,2.1,2.28,2.46,2.7,2.96]],
[-.8,[.31,.42,.57,.77,.95,1.97,2.08,2.24,2.4,2.64,3.05]],
[-.7,[.36,.5,.62,.85,1.9,2.04,2.2,2.37,2.72,3.2]],
[-.6,[.4,.53,.7,.8,1.92,2.02,2.16,2.32,2.58,2.9]],
[-.5,[.44,.55,.74,.88,1.9,2.05,2.24,2.46,2.76]],
[-.4,[.49,.61,.79,.93,1.88,2,2.13,2.38,2.6,3]],
[-.3,[.47,.66,.84,1.86,1.98,2.12,2.33,2.52,2.85]],
[-.2,[.55,.71,.91,1.84,1.97,2.1,2.28,2.48,2.72]],
[-.1,[.58,.76,.98,1.82,1.93,2.07,2.26,2.42,2.68,3.1]],
[0,[.62,.79,.92,1.8,1.91,2.02,2.2,2.36,2.64,2.95]],
[.1,[.66,.82,.96,1.79,1.88,2,2.18,2.34,2.56,2.88]],
[.2,[.71,.86,.99,1.76,1.86,1.99,2.14,2.32,2.52,2.8]],
[.3,[.74,.89,1.75,1.85,1.97,2.1,2.28,2.46,2.75]],
[.4,[.79,.93,1.73,1.83,1.94,2.08,2.24,2.42,2.66]],
[.5,[.77,.95,1.74,1.82,1.93,2.05,2.2,2.4,2.62]],
[.6,[.85,.98,1.72,1.8,1.91,2.03,2.16,2.35]],
[.7,[.88,1.01,1.7,1.78,1.87,2,2.12,2.3,2.55]],
[.8,[.91,1.03,1.68,1.77,1.86,1.98,2.1,2.26,2.5]],
[.9,[.93,1.04,1.66,1.76,1.85,1.94,2.06,2.22]],
[1,[.96,1.62,1.72,1.82,1.92,2.03,2.18,2.4]],
[1.1,[.98,1.58,1.7,1.79,1.9,2.01,2.16,2.36]],
[1.2,[1.01,1.54,1.64,1.76,1.86,1.97,2.12]],
[1.3,[1.05,1.48,1.58,1.7,1.82,1.93,2.08,2.3]],
[1.4,[1.1,1.44,1.54,1.66,1.78,1.9,2.04]],
[1.5,[1.14,1.4,1.5,1.63,1.74,1.86,2]],
[1.6,[1.2,1.36,1.47,1.58,1.7,1.82,1.96]],
[1.7,[1.26,1.39,1.5,1.61,1.73,1.88]],
[1.8,[1.3,1.41,1.53,1.64,1.8,2.05]],
[1.95,[.01,.04,1.33,1.38,1.52,1.81]],
[2.03,[.07,1.36,1.45,1.47,1.71,2.13]],
[2.13,[.09,1.31,1.39,1.58,1.6,1.9]],
[2.21,[.06,.12,1.43,1.49,1.74]],
[2.29,[.13,1.35,1.41,1.56,1.83,1.87]],
[2.38,[.11,.16,1.46,1.62,1.65,2.06]],
[2.46,[.19,1.39,1.44,1.52,1.78]],
[2.55,[.15,.23,1.42,1.57,1.6,1.96]],
[2.63,[.2,1.41,1.55,1.69,1.73]],
[2.71,[.26,.31,1.44,1.48,1.64,1.88]],
[2.8,[.27,1.46,1.53,1.77,2.01]],
[2.88,[.32,.39,1.5,1.56,1.59,1.71]],
[2.97,[.3,.37,1.47,1.63,1.84]],
[3.05,[.41,1.52,1.55,1.68,1.94]],
[3.13,[.38,.46,1.49,1.58,1.74,1.79]],
[3.22,[.42,1.53,1.6,1.62,1.99]],
[3.3,[.44,.5,1.51,1.67,1.86]],
[3.39,[.48,1.55,1.59,1.72,1.76]],
[3.47,[.46,.53,1.52,1.63,1.91]],
[3.56,[.51,1.54,1.57,1.66,1.82]],
[3.64,[.49,.57,1.53,1.69,1.7,2.07]],
[3.73,[.55,1.56,1.61,1.79]],
[3.81,[.52,.6,1.55,1.58,1.74,1.87]],
[3.9,[.58,1.54,1.64,1.67,1.96]],
[3.98,[.56,.63,1.57,1.62,1.81]],
[4.07,[.6,1.55,1.6,1.71,1.77,2.09]],
[4.15,[.59,.66,1.58,1.68,1.89]],
[4.24,[.63,1.56,1.62,1.65,1.84]],
[4.32,[.61,.68,1.59,1.74,1.8]],
[4.41,[.64,1.56,1.6,1.69,1.93]],
[4.49,[.62,.7,1.57,1.66,1.72]],
[4.58,[.66,1.55,1.63,1.85,2.01]],
[4.66,[.63,.71,1.58,1.61,1.79]],
[4.75,[.67,1.54,1.6,1.7,1.75]],
[4.83,[.64,.72,1.56,1.66,1.9]],
[4.92,[.69,1.53,1.58,1.63,1.82]],
[5,[.66,.74,1.55,1.67,1.76,2.02]],
[5.09,[.7,1.54,1.6,1.72,1.88]],
[5.17,[.68,.76,1.53,1.57,1.69]],
[5.26,[.73,1.55,1.62,1.66,1.95]],
[5.34,[.7,.78,1.56,1.61,1.83]],
[5.43,[.75,1.54,1.64,1.77,1.8]],
[5.51,[.73,.82,1.57,1.68,2.11]],
[5.6,[.79,1.58,1.63,1.73,1.9]],
[5.68,[.76,.85,1.6,1.66,1.84]],
[5.77,[.82,1.6,1.71,1.79,2]],
[5.85,[.8,.88,1.63,1.67,1.92]],
[5.94,[.86,1.64,1.74,1.76,2.14]],
[6.02,[.82,.92,1.66,1.73,1.87]],
[6.11,[.9,1.69,1.78,1.83,2.05]],
[6.19,[.86,.94,1.7,1.75,1.97]],
[6.28,[.95,1.72,1.81,1.9,2.22]],
[6.36,[.92,1,1.75,1.79,1.99]],
[6.45,[.99,1.77,1.86,1.92,2.1]],
[6.53,[.96,1.06,1.81,1.84,2.03]],
[6.62,[1.05,1.83,1.93,2.15,2.28]],
[6.7,[1.02,1.1,1.86,1.9,2.07]],
[6.79,[1.1,1.89,1.98,2.02,2.24]],
[6.87,[1.06,1.17,1.93,1.96,2.13]],
[6.96,[1.16,1.95,2.04,2.09,2.34]],
[7.04,[1.13,1.23,1.99,2.02,2.2]],
[7.13,[1.21,2.02,2.11,2.16,2.42]],
[7.21,[1.19,1.29,2.05,2.08,2.27]],
[7.3,[1.27,2.07,2.17,2.22,2.37]],
[7.38,[1.24,1.36,2.11,2.14,2.33]],
[7.47,[1.35,2.13,2.23,2.29,2.5]],
[7.55,[1.31,1.41,2.16,2.2,2.4]],
[7.64,[1.4,2.2,2.28,2.34,2.57]],
[7.72,[1.37,1.49,2.22,2.25,2.45]],
[7.81,[1.47,2.25,2.36,2.41,2.64]],
[7.89,[1.44,1.55,2.28,2.31,2.52]],
[7.98,[1.54,2.32,2.42,2.47,2.7]],
[8.06,[1.5,1.62,2.34,2.38,2.58]],
[8.15,[1.6,2.38,2.48,2.54,2.78]],
[8.23,[1.58,1.7,2.42,2.44,2.66]],
[8.32,[1.68,2.44,2.55,2.6,2.85]],
[8.4,[1.64,1.75,2.47,2.5,2.72]],
[8.49,[1.74,2.5,2.62,2.67,2.92]],
[8.57,[1.7,1.83,2.53,2.57,2.78]],
[8.66,[1.81,2.57,2.68,2.74,3]],
[8.74,[1.78,1.88,2.6,2.63,2.84]],
[8.83,[1.87,2.63,2.74,2.8,3.06]],
[8.91,[1.84,1.96,2.66,2.69,2.9]],
[9,[1.93,2.68,2.8,2.85,3.12]],
[9.08,[1.9,2.03,2.71,2.74,2.96]],
[9.17,[2.01,2.73,2.84,2.9,3.16]],
[9.25,[1.97,2.09,2.76,2.79,3.02]],
[9.34,[2.07,2.77,2.88,2.95,3.2]],
[9.42,[2.03,2.15,2.8,2.83,3.07]],
[9.51,[2.13,2.81,2.92,2.99,3.24]],
[9.59,[2.09,2.22,2.84,2.87,3.12]],
[9.68,[2.2,2.85,2.96,3.03,3.26]],
[9.76,[2.16,2.28,2.88,2.91,3.15]],
[9.85,[2.26,2.88,3,3.06,3.28]],
[9.93,[2.22,2.36,2.91,2.94,3.18]],
[10.02,[2.34,2.92,3.03,3.1,3.3]],
[10.1,[2.3,2.42,2.95,2.97,3.2]],
[10.19,[2.4,2.96,3.07,3.14]],
[10.27,[2.36,2.5,2.98,3.01,3.23]],
[10.36,[2.48,3,3.1,3.17]],
[10.44,[2.44,2.56,3.03,3.05,3.26]],
[10.53,[2.52,3.03,3.14,3.2]],
[10.61,[2.49,2.62,3.06,3.08,3.28]],
[10.7,[2.58,3.07,3.18,3.23]],
[10.78,[2.54,2.68,3.09,3.12,3.3]],
[10.87,[2.64,3.1,3.2,3.26]],
[10.95,[2.6,2.74,3.13,3.15]],
[11.04,[2.7,3.14,3.23,3.28]],
[11.12,[2.66,2.8,3.16,3.19]],
[11.21,[2.76,3.17,3.26,3.31]],
[11.29,[2.74,2.88,3.19,3.22]],
[11.38,[2.83,3.2,3.28,3.34]],
[11.46,[2.8,2.94,3.22,3.25]],
[11.55,[2.9,3.02,3.24,3.3]],
[11.63,[2.88,3,3.1,3.27,3.36]],
[11.72,[2.96,3.08,3.18,3.32]],
[11.8,[3,3.14,3.22,3.38]],
[11.9,[3.04,3.12,3.26,3.34]],
[12,[3.08,3.18,3.3,3.42]],
[12.12,[3.13,3.2,3.28,3.38]],
[12.22,[3.17,3.24,3.36]],
[12.42,[3.24,3.31,3.44]],
[12.68,[3.36,3.43,3.52]],
[12.93,[3.46,3.55,3.61]],
[13.22,[3.56,3.67,3.75]],
[13.52,[3.76,3.84]]
];

// colour bar runs 0..1 on log1p(density), same as the picture
var LOG_TOP = Math.log1p(1000);
function toBar(d) { return Math.log1p(d) / LOG_TOP; }
function fromBar(t) { return Math.round(Math.expm1(t * LOG_TOP)); }
function milli(v) { return Math.round(v * 1000) / 1000; }

var BODY_DX = 0.05, BRANCH_DX = 0.1, HAZE_DX = 0.1;
var BODY_DY = 0.25, BRANCH_DY = 0.25, HAZE_DY = 0.5;

function pushCells(rows, dx, dy, out) {
    rows.forEach(function (row) {
        row[2].forEach(function (d, i) {
            out.push([milli(row[1] + i * dx), row[0] - dy / 2, toBar(d), dx, dy]);
        });
    });
}
var cells = [];
pushCells(hazeRows, HAZE_DX, HAZE_DY, cells);
pushCells(branchRows, BRANCH_DX, BRANCH_DY, cells);
pushCells(bodyRows, BODY_DX, BODY_DY, cells);

function flatten(rows) {
    var out = [];
    rows.forEach(function (row) {
        row[1].forEach(function (x) { out.push([x, row[0]]); });
    });
    return out;
}
var singles = flatten(starRows.concat(crowdRows));
var holes = flatten(holeRows);

function drawCell(params, api) {
    var a = api.coord([api.value(0), api.value(1)]);
    var b = api.coord([milli(api.value(0) + api.value(3)), api.value(1) + api.value(4)]);
    var x0 = Math.round(a[0]), y0 = Math.round(a[1]);
    return {
        type: 'rect',
        shape: { x: x0, y: y0, width: Math.round(b[0]) - x0, height: Math.round(b[1]) - y0 },
        style: { fill: api.visual('color') }
    };
}

var STAR = 'path://M50 0L61.8 35.5H99L69 57.5L80.5 93L50 71L19.5 93L31 57.5L1 35.5H38.2Z';
var serif = '"DejaVu Serif"';
var mathFont = { fontFamily: '"DejaVu Sans"', fontStyle: 'italic', color: '#000' };
var tickStyle = { color: '#000', width: 1.5 };
var barLabel = { fontFamily: serif, fontSize: 48, color: '#000', margin: 12, verticalAlign: 'top', lineHeight: 10,
    showMinLabel: true, showMaxLabel: true, formatter: function (t) { return String(fromBar(t)); } };
var lastBarTick = barTicks[barTicks.length - 1];

var chart = echarts.init(document.getElementById('cmd'), null, { renderer: 'canvas' });
chart.setOption({
    animation: false,
    grid: [
        { left: 207.5, top: 36, width: 1107.5, height: 1253, show: true, borderColor: '#000', borderWidth: 1.5, outerBoundsMode: 'none' },
        { left: 1385, top: 36, width: 62, height: 1253, outerBoundsMode: 'none' }
    ],
    xAxis: [{
        gridIndex: 0, type: 'value', min: -1, max: 6, interval: 1,
        name: '{i|G}{s|BP}{m| − }{i|G}{s|RP}', nameLocation: 'middle', nameGap: 60,
        nameTextStyle: { rich: {
            i: Object.assign({ fontSize: 48, lineHeight: 60 }, mathFont),
            s: Object.assign({ fontSize: 34, lineHeight: 60, verticalAlign: 'bottom' }, mathFont),
            m: { fontFamily: '"DejaVu Sans"', fontSize: 48, color: '#000', lineHeight: 60 }
        } },
        splitLine: { show: false },
        axisLine: { show: false },
        axisTick: { length: 6, lineStyle: tickStyle },
        axisLabel: { fontFamily: serif, fontSize: 48, color: '#000', margin: 14, showMinLabel: true, showMaxLabel: true,
            formatter: function (v) { return String(v).replace('-', '−'); } }
    }, {
        gridIndex: 1, type: 'value', min: 0, max: 1, show: true,
        axisLine: { onZero: false, lineStyle: tickStyle },
        axisTick: { show: false }, axisLabel: { show: false }, splitLine: { show: false }, z: 10
    }, {
        gridIndex: 1, type: 'value', min: 0, max: 1, position: 'top',
        axisLine: { onZero: false, lineStyle: tickStyle },
        axisTick: { show: false }, axisLabel: { show: false }, splitLine: { show: false }, z: 10
    }],
    yAxis: [{
        gridIndex: 0, type: 'value', min: -6, max: 15, inverse: true,
        name: '{i|M}{s|G}', nameLocation: 'middle', nameRotate: 90, nameGap: 125,
        nameTextStyle: { rich: {
            i: Object.assign({ fontSize: 48, lineHeight: 60 }, mathFont),
            s: Object.assign({ fontSize: 34, lineHeight: 60, verticalAlign: 'bottom' }, mathFont)
        } },
        splitLine: { show: false },
        axisLine: { show: false },
        axisTick: { length: 6, customValues: yTicks, lineStyle: tickStyle },
        axisLabel: { fontFamily: serif, fontSize: 48, color: '#000', margin: 12, customValues: yTicks,
            showMinLabel: true, showMaxLabel: true, verticalAlign: 'top', lineHeight: 10,
            formatter: function (v) { return v.toFixed(1).replace('-', '−'); } }
    }, {
        gridIndex: 1, type: 'value', min: 0, max: 1, position: 'right',
        name: 'Number Density', nameLocation: 'middle', nameRotate: 90, nameGap: 149,
        nameTextStyle: { fontFamily: serif, fontSize: 49.5, color: '#000' },
        splitLine: { show: false },
        axisLine: { onZero: false, lineStyle: tickStyle },
        axisTick: { length: 6, customValues: barTicks.map(toBar), lineStyle: tickStyle },
        axisLabel: Object.assign({ customValues: barTicks.slice(0, -1).map(toBar) }, barLabel),
        z: 10
    }, {
        // the top label sits too close to 800 for one axis, it gets its own
        gridIndex: 1, type: 'value', min: 0, max: 1, position: 'right',
        axisLine: { show: false }, axisTick: { show: false }, splitLine: { show: false },
        axisLabel: Object.assign({ customValues: [toBar(lastBarTick)] }, barLabel),
        z: 10
    }, {
        gridIndex: 1, type: 'value', min: 0, max: 1, position: 'left',
        axisLine: { onZero: false, lineStyle: tickStyle },
        axisTick: { show: false }, axisLabel: { show: false }, splitLine: { show: false }, z: 10
    }],
    visualMap: {
        type: 'continuous', min: 0, max: 1, dimension: 2, seriesIndex: 0,
        left: 1385, top: 36, padding: 0, itemWidth: 62, itemHeight: 1253,
        calculable: false, hoverLink: false, text: null,
        inRange: { color: ['#ffffff', '#8f8c9e', '#170b3a', '#260c51', '#3a0963', '#4c0c6b', '#5e126e', '#70196e',
            '#822169', '#952767', '#a82e5f', '#bb3755', '#cb4149', '#da4e3c', '#e65d2f', '#ef6e21', '#f67e14',
            '#fa9207', '#fbaa0e', '#f9c127', '#f6d746'] }
    },
    legend: {
        left: 232, top: 1177, orient: 'horizontal',
        padding: [19, 23, 19, 52],
        itemWidth: 100, itemHeight: 32,
        backgroundColor: 'rgba(255,255,255,0.8)', borderColor: '#ccc', borderWidth: 1.5, borderRadius: 8,
        textStyle: { fontFamily: serif, fontSize: 49, color: '#000', padding: [3, 0, 0, 34] },
        data: [{ name: targetName, icon: STAR, itemStyle: { color: '#000', opacity: 1 } }]
    },
    series: [{
        type: 'custom', xAxisIndex: 0, yAxisIndex: 0, renderItem: drawCell,
        data: cells, encode: { x: 0, y: 1 }, silent: true, progressive: 0, z: 1
    }, {
        type: 'scatter', xAxisIndex: 0, yAxisIndex: 0, data: holes, silent: true,
        symbol: 'rect', symbolSize: [3, 2.5], itemStyle: { color: '#fff', opacity: 1 }, z: 2, progressive: 0
    }, {
        type: 'scatter', xAxisIndex: 0, yAxisIndex: 0, data: singles, silent: true,
        symbol: 'rect', symbolSize: [3, 2.5], itemStyle: { color: '#1d1240', opacity: 0.9 }, z: 3, progressive: 0
    }, {
        type: 'scatter', name: targetName, xAxisIndex: 0, yAxisIndex: 0, data: [target], silent: true,
        symbol: STAR, symbolSize: 30, itemStyle: { color: '#000', opacity: 1 }, z: 5
    }]
});
</script>
</body>
</html>
